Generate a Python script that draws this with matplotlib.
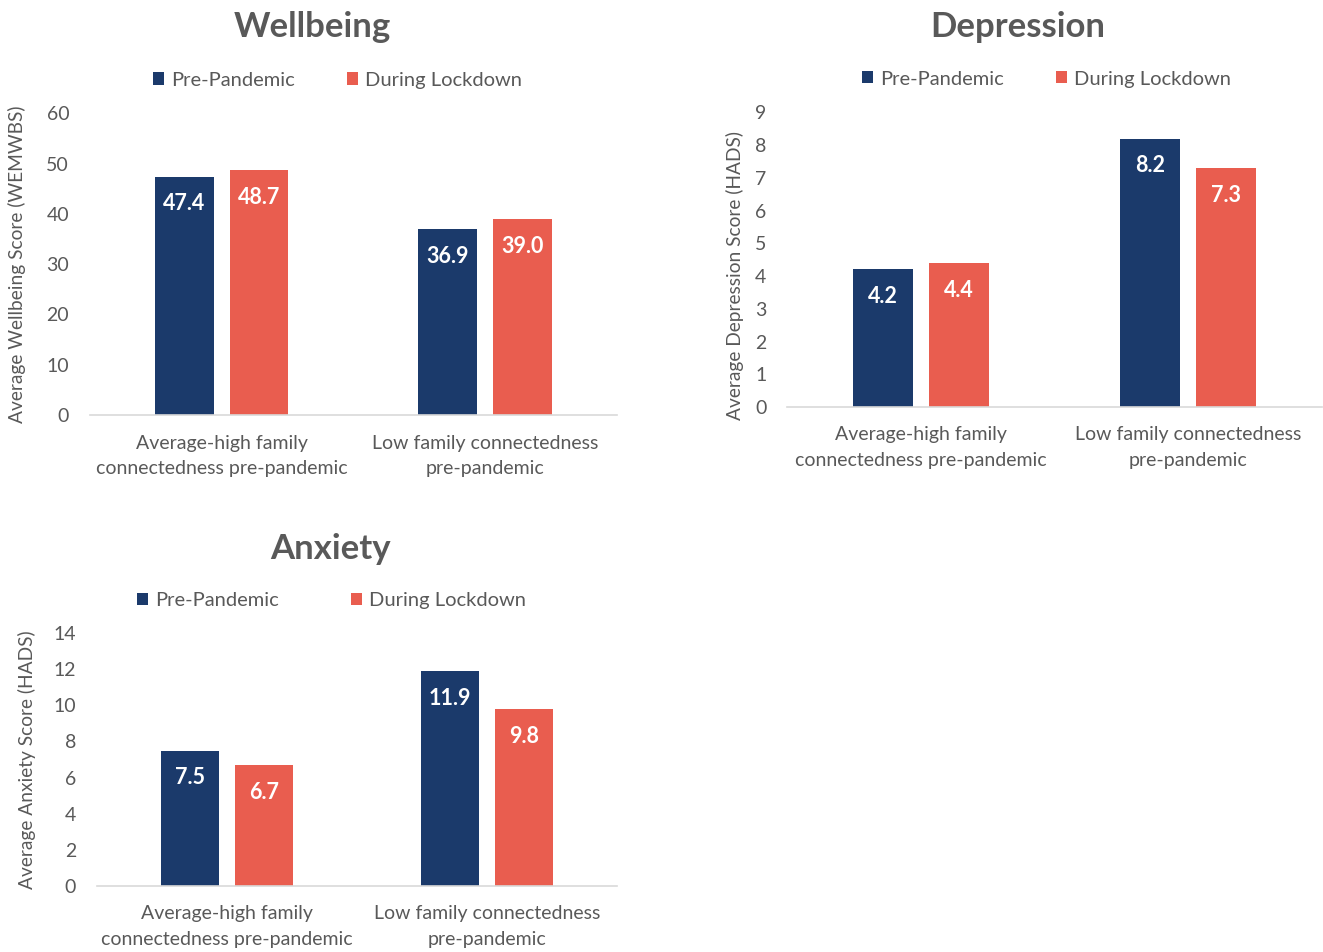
import matplotlib.pyplot as plt
import numpy as np

categories = ["Average-high family\nconnectedness pre-pandemic",
              "Low family connectedness\npre-pandemic"]
series_names = ["Pre-Pandemic", "During Lockdown"]

wellbeing_pre = [47.4, 36.9]
wellbeing_lock = [48.7, 39.0]
depression_pre = [4.2, 8.2]
depression_lock = [4.4, 7.3]
anxiety_pre = [7.5, 11.9]
anxiety_lock = [6.7, 9.8]

NAVY = "#1B3A6B"
RED = "#E95D4F"
GRAY = "#595959"

plt.rcParams['font.family'] = ['Lato', 'DejaVu Sans']

fig = plt.figure(figsize=(13.23, 9.52), dpi=100)


def draw_panel(rect, pre, lock, ymax, ystep, ylabel, label_pos, title, title_x, title_y,
               leg_anchor, colspace):
    ax = fig.add_axes(rect)
    x = np.arange(len(categories))
    w = 0.224
    off = 0.142
    b1 = ax.bar(x - off, pre, w, color=NAVY, label=series_names[0])
    b2 = ax.bar(x + off, lock, w, color=RED, label=series_names[1])
    for bars in (b1, b2):
        for rect_ in bars:
            v = rect_.get_height()
            ax.annotate(f"{v:.1f}", (rect_.get_x() + rect_.get_width() / 2, v),
                        xytext=(0, -12), textcoords="offset points",
                        ha="center", va="top", color="white",
                        fontsize=15.5, fontweight="bold")
    ax.set_xlim(-0.5, 1.5)
    ax.set_ylim(0, ymax)
    ax.set_yticks(np.arange(0, ymax + 0.01, ystep))
    ax.set_xticks(x)
    ax.set_xticklabels(categories, fontsize=14, color=GRAY, linespacing=1.6)
    ax.tick_params(axis="y", labelsize=14, colors=GRAY, length=0, pad=15)
    ax.tick_params(axis="x", length=0, pad=14)
    for s in ("top", "right", "left"):
        ax.spines[s].set_visible(False)
    ax.spines["bottom"].set_color("#D9D9D9")
    ax.spines["bottom"].set_linewidth(1.2)
    ax.set_ylabel(ylabel, fontsize=13.8, color=GRAY)
    ax.yaxis.set_label_coords(*label_pos)
    fig.text(title_x, title_y, title, ha="center", va="center",
             fontsize=25, fontweight="bold", color=GRAY)
    ax.legend(loc="center", bbox_to_anchor=leg_anchor, ncol=2, frameon=False,
              fontsize=14.5, labelcolor=GRAY, handlelength=0.55, handleheight=0.55,
              handletextpad=0.35, columnspacing=colspace)
    return ax


draw_panel([0.068, 0.564, 0.398, 0.317], wellbeing_pre, wellbeing_lock,
           60, 10, "Average Wellbeing Score (WEMWBS)", (-0.121, 0.5), "Wellbeing",
           312 / 1323, 1 - 27 / 952, (0.47, 1.11), 2.6)
draw_panel([0.595, 0.5725, 0.404, 0.3095], depression_pre, depression_lock,
           9, 1, "Average Depression Score (HADS)", (-0.080, 0.447), "Depression",
           1018 / 1323, 1 - 27 / 952, (0.485, 1.113), 2.6)
draw_panel([0.0733, 0.0693, 0.393, 0.2657], anxiety_pre, anxiety_lock,
           14, 2, "Average Anxiety Score (HADS)", (-0.117, 0.5), "Anxiety",
           330 / 1323, 1 - 549 / 952, (0.451, 1.13), 3.6)

fig.savefig("out.png", dpi=100, facecolor="white")
